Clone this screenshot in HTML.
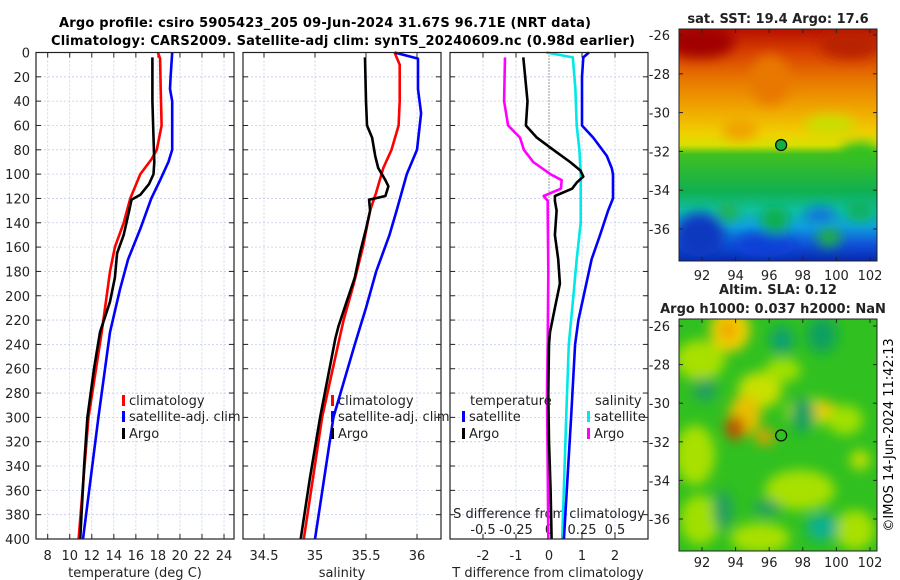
<!DOCTYPE html>
<html><head><meta charset="utf-8"><style>
html,body{margin:0;padding:0;background:#fff;}
svg{display:block;font-family:"DejaVu Sans","Liberation Sans",sans-serif;}
</style></head><body>
<svg id="fig" width="900" height="580" viewBox="0 0 900 580" xmlns="http://www.w3.org/2000/svg">
<defs>
<filter id="blur6"><feGaussianBlur stdDeviation="6"/></filter>
<filter id="blur3"><feGaussianBlur stdDeviation="3"/></filter>
<clipPath id="clipMap1"><rect x="679" y="29" width="198" height="232"/></clipPath>
<clipPath id="clipMap2"><rect x="679" y="319" width="198" height="232"/></clipPath>
<linearGradient id="sstGrad" x1="0" y1="0" x2="0" y2="1">
<stop offset="0" stop-color="#b81000"/><stop offset="0.1" stop-color="#d84000"/>
<stop offset="0.22" stop-color="#e87800"/><stop offset="0.35" stop-color="#f0a800"/>
<stop offset="0.45" stop-color="#f0d000"/><stop offset="0.5" stop-color="#d8e000"/>
<stop offset="0.54" stop-color="#40c020"/><stop offset="0.7" stop-color="#10b050"/>
<stop offset="0.78" stop-color="#10c0a0"/><stop offset="0.85" stop-color="#10a0e0"/>
<stop offset="0.93" stop-color="#1050d8"/><stop offset="1" stop-color="#0828b0"/>
</linearGradient>
</defs>
<text x="325" y="27" text-anchor="middle" font-size="13" font-weight="bold" textLength="532">Argo profile: csiro 5905423_205 09-Jun-2024 31.67S 96.71E (NRT data)</text>
<text x="343" y="45" text-anchor="middle" font-size="13" font-weight="bold" textLength="584">Climatology: CARS2009. Satellite-adj clim: synTS_20240609.nc (0.98d earlier)</text>
<g id="panels"></g>
<g id="maps"></g>
<text transform="translate(893,435) rotate(-90)" text-anchor="middle" font-size="13">©IMOS 14-Jun-2024 11:42:13</text>
</svg>
<script>
// ---------- data ----------
const depthTicks = [0,20,40,60,80,100,120,140,160,180,200,220,240,260,280,300,320,340,360,380,400];
const tempTicks = [8,10,12,14,16,18,20,22,24];
const salTicks = [34.5,35,35.5,36];
const salTickLabels = ["34.5","35","35.5","36"];
const tdiffTicks = [-2,-1,0,1,2];
const sdiffTicks = [-0.5,-0.25,0,0.25,0.5];
const sdiffTickLabels = ["-0.5","-0.25","0","0.25","0.5"];

const tClimDepth = [0,5,30,60,80,88,100,120,140,160,180,200,230,300,400];
const tClimVal   = [18.0,18.2,18.25,18.34,17.9,17.4,16.4,15.5,14.9,14.1,13.65,13.35,12.9,11.7,10.8];
const tSatDepth  = [0,20,30,40,80,90,105,120,145,170,195,230,300,400];
const tSatVal    = [19.3,19.15,19.1,19.3,19.3,18.95,18.2,17.4,16.4,15.3,14.55,13.65,12.6,11.2];
const tArgoDepth = [4,40,70,90,100,108,117,121,130,150,165,185,205,230,260,300,340,400];
const tArgoVal   = [17.5,17.5,17.6,17.67,17.6,17.2,16.4,15.6,15.4,14.9,14.3,14.1,13.65,12.75,12.2,11.6,11.3,10.95];

const sClimDepth = [0,10,40,60,80,95,115,130,160,190,220,235,300,400];
const sClimVal   = [35.78,35.83,35.83,35.82,35.75,35.67,35.6,35.54,35.47,35.38,35.28,35.24,35.07,34.89];
const sSatDepth  = [0,5,30,50,80,100,130,150,180,210,240,300,400];
const sSatVal    = [35.78,36.01,36.01,36.04,36.0,35.9,35.8,35.73,35.6,35.5,35.39,35.18,35.0];
const sArgoDepth = [4,40,60,70,85,95,105,110,118,121,130,145,165,185,205,225,235,300,350,400];
const sArgoVal   = [35.49,35.5,35.51,35.56,35.59,35.62,35.69,35.72,35.69,35.53,35.54,35.5,35.44,35.39,35.31,35.23,35.2,35.05,34.95,34.86];

const dTSatDepth = [0,4,20,40,60,70,85,95,100,120,130,150,170,195,220,240,300,400];
const dTSatVal   = [1.21,1.04,1.0,1.0,1.0,1.34,1.75,1.9,1.94,1.94,1.79,1.55,1.29,1.09,0.89,0.79,0.67,0.45];
const dTArgoDepth = [4,40,60,70,80,90,97,102,107,112,118,122,130,150,170,190,210,230,240,280,320,360,400];
const dTArgoVal   = [-0.78,-0.65,-0.7,-0.37,0.13,0.64,0.95,1.04,0.84,0.7,0.18,0.18,0.23,0.18,0.28,0.33,0.18,0.03,0.0,-0.02,0.0,0.05,0.08];
const dSSatDepth = [0,4,30,60,80,100,140,170,200,240,300,400];
const dSSatVal   = [-0.02,0.18,0.2,0.21,0.23,0.24,0.24,0.21,0.185,0.15,0.13,0.1];
const dSArgoDepth = [4,40,60,70,80,90,100,105,112,118,122,130,180,240,280,340,400];
const dSArgoVal   = [-0.333,-0.34,-0.31,-0.22,-0.19,-0.12,0.01,0.096,0.09,-0.04,-0.01,-0.01,-0.005,-0.01,-0.015,-0.01,-0.005];

const latTicks = [-26,-28,-30,-32,-34,-36];
const lonTicks = [92,94,96,98,100,102];

// ---------- scales ----------
const Y0 = 52.5, Y1 = 539;
const yD = d => Y0 + d * (Y1 - Y0) / 400;
const xT = t => 47.7 + (t - 8) * 11.02;
const xS = s => 264 + (s - 34.5) * 102;
const xDT = t => 549 + t * 33;
const xDS = s => 549 + s * 132;
const mapX = lon => 702 + (lon - 92) * 16.8;
const mapY1 = lat => 35 + (-26 - lat) * 19.4;
const mapY2 = lat => 326 + (-26 - lat) * 19.3;

const NS = "http://www.w3.org/2000/svg";
const P = document.getElementById('panels');
function mk(tag, attrs, parent){
  const e = document.createElementNS(NS, tag);
  for (const k in attrs) e.setAttribute(k, attrs[k]);
  (parent||P).appendChild(e);
  return e;
}
function txt(x,y,s,size,anchor,parent){
  const t = mk('text',{x:x,y:y,'font-size':size,'text-anchor':anchor||'middle',fill:'#222'},parent);
  t.textContent = s; return t;
}

const panels = [
  {x0:36,x1:234,name:'temperature'},
  {x0:243,x1:441,name:'salinity'},
  {x0:450,x1:648,name:'difference'}
];
panels.forEach(p=>{
  const g = mk('g',{});
  
  
  // horizontal grid
  depthTicks.forEach(d=>{
    if (d===0||d===400) return;
    const l = mk('line',{x1:p.x0,x2:p.x1,y1:yD(d),y2:yD(d),stroke:'#c4cce8','stroke-width':0.8,'stroke-dasharray':'2,2'},g);
    
    
    mk('line',{x1:p.x0,x2:p.x0+5,y1:yD(d),y2:yD(d),stroke:'#222'},g);
    mk('line',{x1:p.x1-5,x2:p.x1,y1:yD(d),y2:yD(d),stroke:'#222'},g);
  });
  p.g = g;
});
// vertical grids & x ticks
function vgrid(p, xs, dotted0){
  xs.forEach(x=>{
    mk('line',{x1:x,x2:x,y1:Y0,y2:Y1,stroke:'#c4cce8','stroke-width':0.8,'stroke-dasharray':'2,2'},p.g);
    mk('line',{x1:x,x2:x,y1:Y1,y2:Y1-5,stroke:'#222'},p.g);
    mk('line',{x1:x,x2:x,y1:Y0,y2:Y0+5,stroke:'#222'},p.g);
  });
}
vgrid(panels[0], tempTicks.map(xT));
tempTicks.forEach(t=>{ const e=txt(xT(t),560,String(t),13);   });
vgrid(panels[1], salTicks.map(xS));
salTicks.forEach((s,i)=>{ const e=txt(xS(s),560,salTickLabels[i],13);   });
vgrid(panels[2], tdiffTicks.filter(t=>t!==0).map(xDT));
mk('line',{x1:xDT(0),x2:xDT(0),y1:Y0,y2:Y1,stroke:'#333','stroke-width':1,'stroke-dasharray':'1,2'},panels[2].g);
mk('line',{x1:xDT(0),x2:xDT(0),y1:Y1,y2:Y1-5,stroke:'#222'},panels[2].g);
tdiffTicks.forEach(t=>{ const e=txt(xDT(t),560,String(t),13);   });
sdiffTicks.forEach((s,i)=>{ const e=txt(xDS(s),534,sdiffTickLabels[i],13);   });

// depth labels
depthTicks.forEach(d=>{ const e=txt(30,yD(d)+5,String(d),13,'end');   });

// axis titles
let at;
at = txt(135,577,'temperature (deg C)',13);  
at = txt(342,577,'salinity',13);  
at = txt(548,577,'T difference from climatology',13);  
at = txt(549,518,'S difference from climatology',13);  

// series
function series(depths, vals, xf, color, name){
  const pts = depths.map((d,i)=>xf(vals[i]).toFixed(1)+','+yD(d).toFixed(1)).join(' ');
  const e = mk('polyline',{points:pts,fill:'none',stroke:color,'stroke-width':2.6,'stroke-linejoin':'round'});
  
  
}
series(tClimDepth,tClimVal,xT,'#ff0000','temp-climatology-line');
series(tSatDepth,tSatVal,xT,'#0000ff','temp-satellite-line');
series(tArgoDepth,tArgoVal,xT,'#000000','temp-argo-line');
series(sClimDepth,sClimVal,xS,'#ff0000','sal-climatology-line');
series(sSatDepth,sSatVal,xS,'#0000ff','sal-satellite-line');
series(sArgoDepth,sArgoVal,xS,'#000000','sal-argo-line');
series(dSArgoDepth,dSArgoVal,xDS,'#ff00ff','sdiff-argo-line');
series(dSSatDepth,dSSatVal,xDS,'#00e8e8','sdiff-satellite-line');
series(dTSatDepth,dTSatVal,xDT,'#0000ff','tdiff-satellite-line');
series(dTArgoDepth,dTArgoVal,xDT,'#000000','tdiff-argo-line');

// frames
panels.forEach(p=>{
  const r = mk('rect',{x:p.x0,y:Y0,width:p.x1-p.x0,height:Y1-Y0,fill:'none',stroke:'#222','stroke-width':1.2});
  
  
});

// legends
function legend(x,y,label,color,name){
  mk('rect',{x:x,y:y-10,width:3,height:11,fill:color});
  const t = txt(x+7,y,label,13,'start');
  
  
}
legend(122,405,'climatology','#ff0000','legend-climatology');
legend(122,421,'satellite-adj. clim','#0000ff','legend-satellite');
legend(122,438,'Argo','#000000','legend-argo');
legend(331,405,'climatology','#ff0000','legend-sal-climatology');
legend(331,421,'satellite-adj. clim','#0000ff','legend-sal-satellite');
legend(331,438,'Argo','#000000','legend-sal-argo');
at = txt(470,405,'temperature',13,'start');  
at = txt(595,405,'salinity',13,'start');  
legend(462,421,'satellite','#0000ff','legend-tdiff-satellite');
legend(462,438,'Argo','#000000','legend-tdiff-argo');
legend(587,421,'satellite','#00e8e8','legend-sdiff-satellite');
legend(587,438,'Argo','#ff00ff','legend-sdiff-argo');

// ---------- maps ----------
const M = document.getElementById('maps');
function mapAxes(yf, x0,y0,x1,y1, lonY){
  latTicks.forEach(l=>{
    const t = txt(670,yf(l)+5,String(l),13,'end',M);
    
    
    mk('line',{x1:x0,x2:x0+4,y1:yf(l),y2:yf(l),stroke:'#222'},M);
    mk('line',{x1:x1-4,x2:x1,y1:yf(l),y2:yf(l),stroke:'#222'},M);
  });
  lonTicks.forEach(l=>{
    const t = txt(mapX(l),lonY,String(l),13,'middle',M);
    
    
    mk('line',{x1:mapX(l),x2:mapX(l),y1:y1,y2:y1-4,stroke:'#222'},M);
    mk('line',{x1:mapX(l),x2:mapX(l),y1:y0,y2:y0+4,stroke:'#222'},M);
  });
  mk('rect',{x:x0,y:y0,width:x1-x0,height:y1-y0,fill:'none',stroke:'#222'},M);
}
// SST map
const g1 = mk('g',{'clip-path':'url(#clipMap1)'},M);


mk('rect',{x:679,y:29,width:198,height:232,fill:'url(#sstGrad)'},g1);
const gb1 = mk('g',{filter:'url(#blur6)'},g1);
mk('ellipse',{cx:700,cy:42,rx:35,ry:16,fill:'#a00000'},gb1);
mk('ellipse',{cx:850,cy:45,rx:30,ry:14,fill:'#b82000'},gb1);
mk('ellipse',{cx:770,cy:80,rx:20,ry:25,fill:'#e87800'},gb1);
mk('ellipse',{cx:740,cy:130,rx:18,ry:10,fill:'#f0a000'},gb1);
mk('ellipse',{cx:830,cy:125,rx:25,ry:10,fill:'#c8e000'},gb1);
mk('ellipse',{cx:860,cy:152,rx:20,ry:10,fill:'#30c020'},gb1);
mk('ellipse',{cx:700,cy:235,rx:25,ry:22,fill:'#0838c0'},gb1);
mk('ellipse',{cx:765,cy:245,rx:30,ry:12,fill:'#1040d8'},gb1);
mk('ellipse',{cx:728,cy:212,rx:10,ry:10,fill:'#20b050'},gb1);
mk('ellipse',{cx:775,cy:220,rx:14,ry:14,fill:'#10b048'},gb1);
mk('ellipse',{cx:829,cy:237,rx:12,ry:10,fill:'#20b040'},gb1);
mk('ellipse',{cx:860,cy:210,rx:14,ry:12,fill:'#10b060'},gb1);
mk('ellipse',{cx:820,cy:215,rx:16,ry:8,fill:'#1070e0'},gb1);
mapAxes(mapY1,679,29,877,261,280);
let c = mk('circle',{cx:mapX(96.71),cy:mapY1(-31.67),r:5.5,fill:'#10b040',stroke:'#000','stroke-width':1.2},M);


at = txt(778,23,'sat. SST: 19.4 Argo: 17.6',13,'middle',M);
at.setAttribute('font-weight','bold');



// SLA map
const g2 = mk('g',{'clip-path':'url(#clipMap2)'},M);


mk('rect',{x:679,y:319,width:198,height:232,fill:'#30c020'},g2);
const gb2 = mk('g',{filter:'url(#blur6)'},g2);
[[730,330,20,22,'#f0d000'],[728,330,8,10,'#f0a000'],[700,360,25,20,'#a8e000'],[760,390,22,18,'#c8e000'],
 [745,415,16,20,'#e8c000'],[735,428,10,12,'#c05000'],[765,437,10,8,'#e0a000'],[695,455,20,30,'#a8e000'],
 [810,412,25,14,'#b0e000'],[825,410,12,8,'#f0c800'],[800,490,35,20,'#a8e000'],[860,460,10,10,'#c0e000'],
 [700,520,20,25,'#a0e000'],[760,538,30,15,'#a8e000'],[855,530,20,20,'#a8e000'],[845,420,18,15,'#a0e000'],
 [783,370,18,12,'#a0e000'],[705,390,12,12,'#20a060'],[782,340,12,14,'#10a070'],[822,335,15,18,'#10a060'],
 [803,415,12,18,'#10a060'],[822,527,16,14,'#10b090'],[723,510,10,20,'#20a060'],[767,508,14,8,'#20a060']
].forEach(b=>mk('ellipse',{cx:b[0],cy:b[1],rx:b[2],ry:b[3],fill:b[4]},gb2));
mapAxes(mapY2,679,319,877,551,567);
c = mk('circle',{cx:mapX(96.71),cy:mapY2(-31.67),r:5.5,fill:'#30c020',stroke:'#000','stroke-width':1.2},M);


at = txt(778,294,'Altim. SLA: 0.12',13,'middle',M);
at.setAttribute('font-weight','bold');


at = txt(773,313,'Argo h1000: 0.037 h2000: NaN',13,'middle',M);
at.setAttribute('font-weight','bold');


</script>
</body></html>
